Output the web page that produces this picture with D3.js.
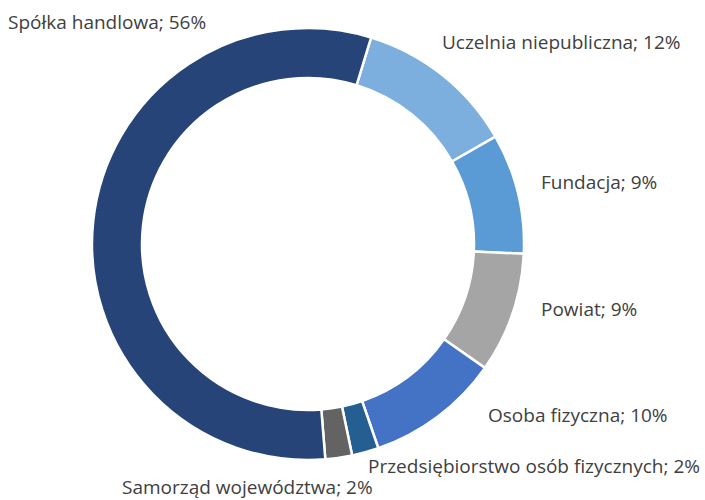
<!DOCTYPE html>
<html lang="pl">
<head>
<meta charset="utf-8">
<style>
  body { margin: 0; background: #fff; }
  text { font-family: "Segoe UI", "Open Sans", sans-serif; font-size: 19px; fill: #404040; }
</style>
<script src="https://cdn.jsdelivr.net/npm/d3@7"></script>
</head>
<body>
<script>
  // data, in the order the slices run clockwise
  var categories = ["Uczelnia niepubliczna", "Fundacja", "Powiat", "Osoba fizyczna",
                    "Przedsiębiorstwo osób fizycznych", "Samorząd województwa", "Spółka handlowa"];
  var shares = [12, 9, 9, 10, 2, 2, 56];
  var colors = ["#7cafdd", "#5b9bd5", "#a5a5a5", "#4472c4", "#255e91", "#636363", "#264478"];

  // where each label starts (x) and sits (baseline y)
  var labelPos = [[442, 49], [541, 189], [541, 316], [488, 422], [368, 473], [122, 494], [8, 29]];

  var width = 705, height = 500;
  var cx = 308, cy = 244;

  var svg = d3.select("body").append("svg")
      .attr("width", width)
      .attr("height", height);

  var start = 17 * Math.PI / 180;
  var pie = d3.pie().sort(null)
      .startAngle(start)
      .endAngle(start + 2 * Math.PI);

  var arc = d3.arc().innerRadius(166).outerRadius(216);

  var g = svg.append("g").attr("transform", "translate(" + cx + "," + cy + ")");

  g.selectAll("path")
    .data(pie(shares))
    .enter().append("path")
    .attr("d", arc)
    .attr("fill", function(d, i) { return colors[i]; })
    .attr("stroke", "#fff")
    .attr("stroke-width", 2.5);

  svg.selectAll("text.lbl")
    .data(categories)
    .enter().append("text")
    .attr("class", "lbl")
    .attr("x", function(d, i) { return labelPos[i][0]; })
    .attr("y", function(d, i) { return labelPos[i][1]; })
    .text(function(d, i) { return d + "; " + shares[i] + "%"; });
</script>
</body>
</html>
